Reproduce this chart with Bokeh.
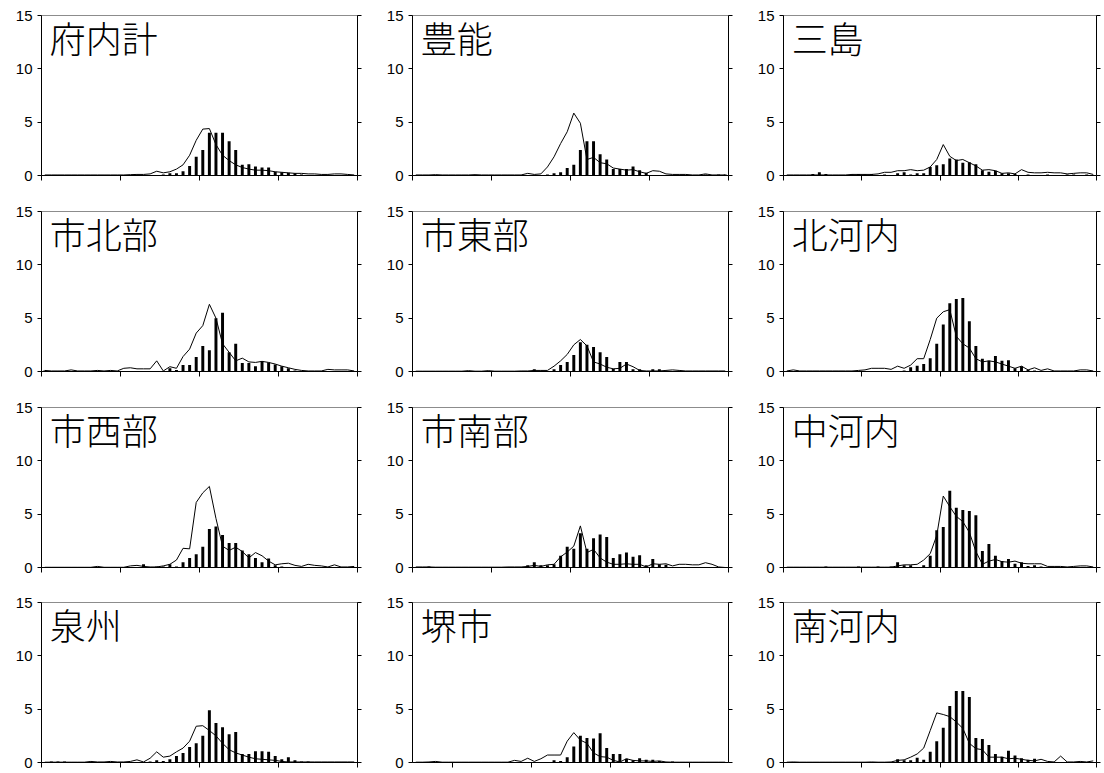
from bokeh.plotting import figure
from bokeh.layouts import column, row
from bokeh.models import Range1d, LinearAxis, FixedTicker, Label
from bokeh.embed import file_html
from bokeh.resources import INLINE

# ---- data: 48 periods per region; bars = black columns, line = thin line ----
periods = list(range(48))

regions = ["府内計", "豊能", "三島", "市北部", "市東部", "北河内",
           "市西部", "市南部", "中河内", "泉州", "堺市", "南河内"]

bar_funaikei = [0, 0, 0, 0, 0, 0, 0, 0, 0, 0, 0, 0, 0, 0, 0, 0, 0, 0.05,
                0.1, 0.2, 0.2, 0.4, 0.9, 1.75, 2.4, 4.0, 4.0, 4.0, 3.2, 2.4, 1.0, 1.05,
                0.85, 0.75, 0.75, 0.35, 0.3, 0.25, 0.2, 0.1, 0.05, 0, 0, 0, 0, 0, 0, 0]
line_funaikei = [0.05, 0.05, 0.05, 0.05, 0.05, 0.05, 0.05, 0.05, 0.05, 0.05, 0.05, 0.05, 0.05, 0.08, 0.1, 0.1,
                 0.15, 0.4, 0.25, 0.35, 0.6, 1.0, 1.9, 3.3, 4.35, 4.4, 2.9, 1.9, 1.4, 1.0, 0.75, 0.6,
                 0.5, 0.5, 0.45, 0.35, 0.3, 0.25, 0.2, 0.2, 0.15, 0.15, 0.1, 0.1, 0.15, 0.15, 0.1, 0.05]

bar_toyono = [0, 0, 0, 0, 0, 0, 0, 0, 0, 0, 0, 0, 0, 0, 0, 0, 0, 0, 0, 0,
              0.1, 0.2, 0.3, 0.7, 1.0, 2.4, 3.2, 3.2, 2.0, 1.5, 0.6, 0.6, 0.6, 0.85, 0.5, 0.25,
              0.05, 0, 0, 0, 0, 0, 0, 0, 0.1, 0.05, 0.1, 0.1]
line_toyono = [0.05, 0.05, 0.05, 0.08, 0.05, 0.05, 0.05, 0.05, 0.05, 0.08, 0.05, 0.05, 0.05, 0.05, 0.05, 0.05,
               0.05, 0.2, 0.1, 0.15, 0.8, 1.75, 3.0, 4.1, 5.85, 4.9, 1.5, 1.7, 1.2, 1.1, 0.7, 0.6,
               0.5, 0.55, 0.35, 0.2, 0.45, 0.4, 0.15, 0.1, 0.1, 0.1, 0.05, 0.05, 0.15, 0.05, 0.05, 0.05]

bar_mishima = [0, 0, 0, 0, 0.15, 0.3, 0.15, 0.05, 0, 0.05, 0.1, 0.15, 0.1, 0.15, 0.05, 0.1,
               0.05, 0.2, 0.3, 0.1, 0.2, 0.2, 0.8, 0.95, 1.05, 1.6, 1.5, 1.2, 1.25, 1.05, 0.5, 0.35,
               0.45, 0.2, 0.2, 0.15, 0.05, 0.1, 0.05, 0.05, 0.1, 0.05, 0.05, 0.1, 0.1, 0.05, 0.1, 0.05]
line_mishima = [0.05, 0.05, 0.05, 0.05, 0.05, 0.05, 0.05, 0.05, 0.05, 0.05, 0.1, 0.1, 0.1, 0.1, 0.15, 0.3,
                0.3, 0.45, 0.45, 0.55, 0.45, 0.5, 0.8, 1.5, 2.9, 1.8, 1.4, 1.5, 1.2, 0.9, 0.5, 0.55,
                0.45, 0.2, 0.25, 0.15, 0.55, 0.3, 0.25, 0.25, 0.3, 0.25, 0.25, 0.15, 0.2, 0.25, 0.25, 0.1]

bar_shihokubu = [0.1, 0, 0, 0, 0, 0, 0, 0, 0, 0, 0, 0, 0, 0, 0, 0, 0, 0, 0,
                 0.3, 0.15, 0.6, 0.6, 1.35, 2.4, 2.0, 5.0, 5.5, 1.8, 2.6, 0.8, 0.8,
                 0.5, 0.95, 0.85, 0.65, 0.5, 0.3, 0.1, 0, 0, 0, 0, 0, 0, 0, 0, 0]
line_shihokubu = [0.1, 0.05, 0.05, 0.05, 0.15, 0.05, 0.05, 0.05, 0.1, 0.05, 0.1, 0.05, 0.3, 0.35, 0.25, 0.25,
                  0.25, 1.0, 0.05, 0.45, 0.3, 1.4, 2.1, 3.6, 4.3, 6.3, 5.0, 2.6, 1.8, 1.0, 1.25, 0.9,
                  0.85, 0.95, 0.85, 0.7, 0.5, 0.35, 0.2, 0.1, 0.05, 0.05, 0.05, 0.2, 0.15, 0.15, 0.15, 0.05]

bar_shitobu = [0, 0, 0, 0, 0, 0, 0, 0, 0, 0, 0, 0, 0, 0, 0, 0, 0, 0,
               0.2, 0.05, 0.05, 0.2, 0.6, 0.9, 1.55, 2.75, 2.5, 2.3, 1.8, 1.35, 0.25, 0.9,
               0.9, 0.2, 0.2, 0.05, 0.2, 0.2, 0, 0, 0, 0, 0, 0, 0, 0, 0, 0]
line_shitobu = [0.03, 0.03, 0.03, 0.03, 0.03, 0.03, 0.03, 0.03, 0.08, 0.03, 0.03, 0.08, 0.03, 0.03, 0.03, 0.03,
                0.05, 0.05, 0.1, 0.1, 0.1, 0.5, 1.0, 1.6, 2.5, 3.0, 2.4, 0.9, 0.7, 0.4, 0.25, 0.3,
                0.7, 0.45, 0.1, 0.05, 0.05, 0.05, 0.1, 0.15, 0.1, 0.05, 0.05, 0.05, 0.05, 0.05, 0.05, 0.05]

bar_kitakawachi = [0, 0, 0, 0, 0, 0, 0, 0, 0, 0, 0, 0, 0, 0, 0, 0, 0, 0,
                   0.1, 0.4, 0.55, 0.7, 1.25, 2.6, 4.4, 6.4, 6.8, 6.9, 4.7, 2.4, 1.2, 1.0,
                   1.45, 1.0, 1.05, 0.3, 0.5, 0.15, 0.1, 0.05, 0, 0, 0, 0, 0, 0, 0, 0]
line_kitakawachi = [0.05, 0.15, 0.05, 0.05, 0.05, 0.05, 0.05, 0.05, 0.05, 0.05, 0.05, 0.1, 0.15, 0.3, 0.3, 0.3,
                    0.2, 0.5, 0.3, 0.6, 1.2, 1.2, 3.0, 5.0, 5.6, 5.8, 3.3, 2.6, 2.2, 1.2, 0.9, 1.0,
                    0.9, 0.7, 0.5, 0.3, 0.5, 0.15, 0.35, 0.1, 0.25, 0.05, 0.05, 0.05, 0.05, 0.15, 0.15, 0.05]

bar_shiseibu = [0, 0, 0, 0, 0, 0, 0, 0, 0, 0, 0, 0, 0, 0, 0, 0.3,
                0, 0.1, 0.1, 0.3, 0.1, 0.5, 0.9, 1.25, 1.95, 3.6, 3.85, 3.05, 2.3, 2.3, 1.6, 1.25,
                0.9, 0.5, 0.85, 0.2, 0.1, 0, 0, 0, 0, 0, 0, 0, 0, 0, 0, 0]
line_shiseibu = [0.02, 0.02, 0.02, 0.02, 0.02, 0.02, 0.02, 0.02, 0.1, 0.02, 0.02, 0.02, 0.02, 0.15, 0.2, 0.1,
                 0.05, 0.05, 0.15, 0.3, 0.7, 1.8, 1.75, 6.1, 7.0, 7.6, 4.6, 2.0, 1.6, 1.9, 1.5, 0.9,
                 1.4, 1.1, 0.6, 0.25, 0.35, 0.4, 0.2, 0.1, 0.3, 0.2, 0.15, 0.05, 0.25, 0.05, 0.05, 0.1]

bar_shinanbu = [0, 0, 0.1, 0, 0, 0, 0, 0, 0, 0, 0, 0, 0, 0, 0.05, 0.05,
                0, 0.2, 0.5, 0.2, 0.2, 0.3, 1.1, 1.95, 1.75, 3.2, 1.75, 2.75, 3.1, 2.85, 0.9, 1.25,
                1.4, 1.0, 1.15, 0.2, 0.8, 0.3, 0.25, 0, 0, 0, 0, 0, 0, 0, 0, 0]
line_shinanbu = [0.05, 0.05, 0.05, 0.03, 0.03, 0.03, 0.03, 0.03, 0.03, 0.03, 0.03, 0.03, 0.03, 0.03, 0.05, 0.05,
                 0.05, 0.1, 0.2, 0.1, 0.25, 0.3, 1.0, 1.45, 2.0, 3.9, 1.4, 1.7, 0.9, 0.5, 0.3, 0.3,
                 0.35, 0.3, 0.3, 0.05, 0.35, 0.3, 0.35, 0.15, 0.3, 0.3, 0.25, 0.25, 0.45, 0.3, 0.05, 0.0]

bar_nakakawachi = [0, 0, 0, 0, 0, 0, 0.1, 0, 0, 0, 0, 0.1, 0.05, 0, 0.1, 0,
                   0.1, 0.5, 0.2, 0.2, 0, 0.2, 1.1, 3.5, 3.8, 7.2, 5.6, 5.4, 5.3, 4.9, 1.55, 2.2,
                   1.1, 0.6, 0.8, 0.35, 0.5, 0.15, 0.2, 0.1, 0, 0, 0, 0, 0, 0, 0, 0]
line_nakakawachi = [0.03, 0.03, 0.03, 0.03, 0.03, 0.03, 0.03, 0.03, 0.03, 0.03, 0.03, 0.03, 0.03, 0.03, 0.03, 0.03,
                    0.03, 0.15, 0.25, 0.25, 0.3, 0.7, 1.3, 3.0, 6.7, 5.7, 4.8, 4.3, 3.3, 1.5, 0.3, 0.6,
                    0.75, 0.55, 0.5, 0.6, 0.4, 0.35, 0.35, 0.35, 0.1, 0.1, 0.1, 0.05, 0.1, 0.15, 0.15, 0.05]

bar_senshu = [0, 0.1, 0.1, 0.1, 0, 0, 0, 0.05, 0, 0, 0.05, 0, 0, 0.05, 0.05, 0,
              0.1, 0.2, 0.15, 0.3, 0.6, 0.9, 1.45, 1.8, 2.5, 4.9, 3.7, 3.3, 2.65, 2.85, 0.8, 0.8,
              1.05, 1.05, 1.0, 0.6, 0.3, 0.5, 0.2, 0.1, 0.1, 0.05, 0.05, 0, 0.05, 0, 0, 0]
line_senshu = [0.03, 0.03, 0.03, 0.03, 0.03, 0.03, 0.03, 0.1, 0.05, 0.05, 0.1, 0.05, 0.05, 0.1, 0.25, 0.05,
               0.4, 1.0, 0.5, 0.6, 1.0, 1.35, 2.0, 3.4, 3.45, 3.0, 2.5, 1.8, 1.2, 0.9, 0.7, 0.5,
               0.35, 0.3, 0.25, 0.2, 0.1, 0.05, 0.05, 0.05, 0.05, 0.05, 0.05, 0.05, 0.05, 0.05, 0.05, 0.05]

bar_sakai = [0, 0, 0, 0, 0, 0, 0, 0, 0, 0, 0, 0, 0, 0, 0, 0, 0, 0, 0, 0, 0,
             0.2, 0.15, 0.5, 1.5, 2.5, 2.3, 2.25, 2.75, 1.35, 0.8, 0.8,
             0.35, 0.2, 0.4, 0.25, 0.25, 0.15, 0, 0.1, 0, 0, 0.05, 0, 0, 0, 0, 0]
line_sakai = [0.03, 0.03, 0.05, 0.1, 0.03, 0.03, 0.03, 0.03, 0.03, 0.03, 0.03, 0.03, 0.03, 0.03, 0.03, 0.2,
              0.1, 0.4, 0.1, 0.35, 0.7, 0.7, 0.7, 2.0, 2.8, 2.1, 1.8, 0.9, 0.55, 0.5, 0.2, 0.05,
              0.35, 0.2, 0.15, 0.15, 0.1, 0.15, 0.05, 0.03, 0.03, 0.03, 0.03, 0.03, 0.03, 0.03, 0.03, 0.03]

bar_minamikawachi = [0, 0, 0, 0, 0, 0, 0, 0, 0, 0, 0, 0, 0, 0, 0, 0, 0,
                     0.3, 0.2, 0.2, 0.45, 0.25, 1.0, 2.0, 3.25, 5.3, 6.7, 6.7, 6.15, 2.3, 2.2, 1.65,
                     0.8, 0.55, 1.1, 0.65, 0.4, 0.25, 0.35, 0, 0, 0, 0, 0, 0, 0, 0, 0]
line_minamikawachi = [0.03, 0.05, 0.03, 0.03, 0.03, 0.03, 0.03, 0.03, 0.03, 0.03, 0.03, 0.03, 0.03, 0.05, 0.03, 0.03,
                      0.05, 0.2, 0.25, 0.5, 0.8, 1.35, 3.0, 4.65, 4.5, 4.3, 3.8, 3.2, 1.8, 1.3, 1.2, 0.5,
                      0.5, 0.5, 0.35, 0.4, 0.3, 0.2, 0.15, 0.3, 0.1, 0.05, 0.6, 0.05, 0.05, 0.1, 0.05, 0.15]

bar_series = [bar_funaikei, bar_toyono, bar_mishima, bar_shihokubu, bar_shitobu, bar_kitakawachi,
              bar_shiseibu, bar_shinanbu, bar_nakakawachi, bar_senshu, bar_sakai, bar_minamikawachi]
line_series = [line_funaikei, line_toyono, line_mishima, line_shihokubu, line_shitobu, line_kitakawachi,
               line_shiseibu, line_shinanbu, line_nakakawachi, line_senshu, line_sakai, line_minamikawachi]

y_ticks = [0, 5, 10, 15]
x_ticks_default = [0, 12, 24, 36, 48]
x_ticks_sakai = [6, 18, 30, 42]

# layout (pixels): column widths / right borders, row heights / borders
col_width = [371, 371, 360]
col_right = [14, 14, 6]
row_height = [196, 196, 196, 181]
row_top = [15, 15, 15, 14]
row_bottom = [21, 21, 21, 7]


def hide_labels(ax):
    ax.major_label_text_color = None
    ax.major_label_text_alpha = 0
    ax.major_label_text_font_size = "1px"
    ax.major_label_standoff = 0


def make_panel(name, bars, line, xticks, r, c):
    p = figure(width=col_width[c], height=row_height[r],
               x_range=Range1d(0, 48), y_range=Range1d(0, 15),
               output_backend="svg", toolbar_location=None,
               min_border_left=41, min_border_right=col_right[c],
               min_border_top=row_top[r], min_border_bottom=row_bottom[r])
    p.grid.visible = False
    p.outline_line_color = "#8c8c8c"
    p.outline_line_width = 1
    p.background_fill_color = "white"
    p.border_fill_color = "white"

    xs = [i + 0.5 for i in periods]
    p.vbar(x=xs, top=bars, width=0.45, fill_color="black", line_color=None)
    p.line(x=xs, y=line, line_color="black", line_width=1)

    xa = p.xaxis[0]
    xa.ticker = FixedTicker(ticks=xticks)
    hide_labels(xa)
    xa.major_tick_out = 5
    xa.major_tick_in = 0
    xa.minor_tick_line_color = None
    xa.axis_line_color = "black"
    xa.major_tick_line_color = "black"

    ya = p.yaxis[0]
    ya.ticker = FixedTicker(ticks=y_ticks)
    ya.major_label_text_font = "Liberation Sans"
    ya.major_label_text_font_size = "15px"
    ya.major_label_text_color = "black"
    ya.major_label_standoff = 5
    ya.major_tick_out = 4
    ya.major_tick_in = 0
    ya.minor_tick_line_color = None
    ya.axis_line_color = "black"
    ya.major_tick_line_color = "black"

    ra = LinearAxis(ticker=FixedTicker(ticks=y_ticks))
    hide_labels(ra)
    ra.major_tick_out = 4
    ra.major_tick_in = 0
    ra.minor_tick_line_color = None
    ra.axis_line_color = "black"
    ra.major_tick_line_color = "black"
    p.add_layout(ra, "right")

    p.add_layout(Label(x=1.25, y=15.4, text=name,
                       text_font="Noto Sans CJK JP Light, Noto Sans CJK JP",
                       text_font_size="36px", text_color="black",
                       text_baseline="top", text_align="left"))
    return p


rows = []
for r in range(4):
    figs = []
    for c in range(3):
        idx = r * 3 + c
        name = regions[idx]
        ticks = x_ticks_sakai if name == "堺市" else x_ticks_default
        figs.append(make_panel(name, bar_series[idx], line_series[idx], ticks, r, c))
    rows.append(row(*figs))

layout = column(*rows)

open("out.html", "w").write(file_html(layout, INLINE))
